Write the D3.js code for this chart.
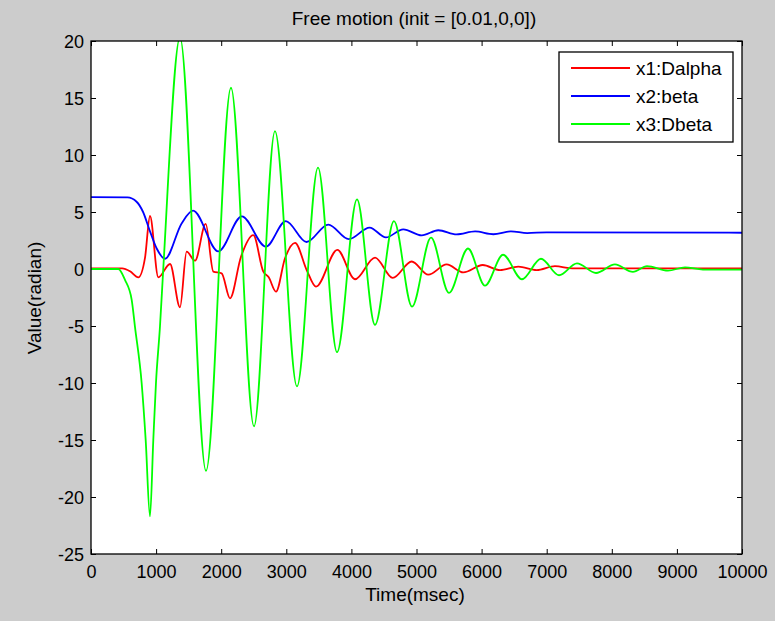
<!DOCTYPE html>
<html>
<head>
<meta charset="utf-8">
<script src="https://cdn.jsdelivr.net/npm/d3@7"></script>
<style>
  body { margin: 0; background: #cccccc; }
  svg { display: block; }
  text { font-family: "Liberation Sans", Arial, sans-serif; fill: #000; }
</style>
</head>
<body>
<svg id="chart" width="775" height="621"></svg>
<script>
// [time (msec), value (radian)]
const dalpha = [[0,0.05],[480,0.05],[600,-0.2],[727,-0.73],[830,1.0],[906,4.65],[1034,-0.73],
  [1214,0.44],[1367,-3.36],[1469,1.52],[1598,0.73],[1762,3.95],[1879,-0.23],[2007,-0.38],
  [2135,-2.57],[2304,1.08],[2493,2.98],[2647,-0.23],[2730,-0.73],[2842,-1.99],[2980,0.94],
  [3134,2.3],[3313,-0.09],[3456,-1.55],[3784,1.67],[4055,-0.9],[4363,1.0],[4634,-0.78],
  [4926,0.66],[5181,-0.5],[5463,0.4],[5719,-0.3],[6017,0.35],[6283,-0.1],[6564,0.2],
  [6846,-0.1],[7127,0.25],[7400,0.05],[10000,0.05]];

const beta = [[0,6.3],[560,6.28],[700,5.9],[800,5.0],[906,3.3],[1009,1.8],[1137,0.9],
  [1392,4.0],[1567,5.12],[1956,1.55],[2317,4.62],[2686,1.96],[2993,4.2],[3310,2.37],
  [3645,3.9],[3960,2.62],[4280,3.63],[4530,2.77],[4797,3.48],[5080,2.95],[5335,3.4],
  [5617,3.04],[5900,3.3],[6180,3.05],[6450,3.3],[6700,3.15],[7000,3.22],[10000,3.18]];

const dbeta = [[0,0],[420,0],[522,-0.96],[625,-2.7],[676,-5.1],[778,-10],[840,-15],
  [906,-21.7],[957,-15],[998,-10],[1060,-5],[1110,0],[1367,20.3],[1767,-17.7],[2150,15.9],
  [2504,-13.8],[2826,12.1],[3164,-10.3],[3487,8.9],[3779,-7.3],[4086,6.1],[4362,-4.9],
  [4654,4.2],[4931,-3.3],[5223,2.75],[5499,-2.1],[5791,1.8],[6052,-1.46],[6329,1.25],
  [6620,-0.9],[6912,0.9],[7189,-0.55],[7465,0.5],[7757,-0.35],[8049,0.4],[8325,-0.25],
  [8541,0.25],[8863,-0.15],[9124,0.15],[9400,-0.05],[10000,-0.05]];

const seriesNames = ["x1:Dalpha", "x2:beta", "x3:Dbeta"];
const xTicks = [0,1000,2000,3000,4000,5000,6000,7000,8000,9000,10000];
const yTicks = [-25,-20,-15,-10,-5,0,5,10,15,20];

const colors = ["#ff0000", "#0000ff", "#00ff00"];
const marginLeft = 91, marginTop = 41, width = 651, height = 513;

const svg = d3.select("#chart");
const g = svg.append("g").attr("transform", "translate(" + marginLeft + "," + marginTop + ")");

const x = d3.scaleLinear().domain([0, 10000]).range([0, width]);
const y = d3.scaleLinear().domain([-25, 20]).range([height, 0]);

g.append("rect").attr("width", width).attr("height", height).style("fill", "white");

g.append("clipPath").attr("id", "plotclip")
  .append("rect").attr("width", width).attr("height", height);

// axes, ticks pointing inward on all four sides
const bottomAx = g.append("g").attr("transform", "translate(0," + height + ")")
  .call(d3.axisBottom(x).tickValues(xTicks).tickFormat(d => String(d))
    .tickSizeInner(-5).tickSizeOuter(0).tickPadding(11));
const topAx = g.append("g")
  .call(d3.axisTop(x).tickValues(xTicks).tickFormat("").tickSizeInner(-5).tickSizeOuter(0));
const leftAx = g.append("g")
  .call(d3.axisLeft(y).tickValues(yTicks).tickFormat(d => String(d))
    .tickSizeInner(-5).tickSizeOuter(0).tickPadding(7));
const rightAx = g.append("g").attr("transform", "translate(" + width + ",0)")
  .call(d3.axisRight(y).tickValues(yTicks).tickFormat("").tickSizeInner(-5).tickSizeOuter(0));

[bottomAx, topAx, leftAx, rightAx].forEach(a => {
  a.select(".domain").remove();
  a.selectAll("line").style("stroke", "#000");
  a.selectAll("text").style("font-size", "18px").style("font-family", "Liberation Sans, Arial, sans-serif").style("fill", "#000");
});
leftAx.selectAll("text").attr("dy", "0.38em");

const line = d3.line()
  .x(d => x(d[0]))
  .y(d => y(d[1]))
  .curve(d3.curveMonotoneX);

const plot = g.append("g").attr("clip-path", "url(#plotclip)");
[dalpha, beta, dbeta].forEach((s, i) => {
  plot.append("path")
    .datum(s)
    .attr("fill", "none")
    .attr("stroke", colors[i])
    .attr("stroke-width", 1.8)
    .attr("d", line);
});

g.append("rect").attr("width", width).attr("height", height)
  .style("fill", "none").style("stroke", "#000").style("stroke-width", 1.3);

// legend
const legend = g.append("g").attr("transform", "translate(468,11)");
legend.append("rect").attr("width", 174).attr("height", 90)
  .style("fill", "white").style("stroke", "#000").style("stroke-width", 1.3);
seriesNames.forEach((name, i) => {
  const ly = 16 + i * 28;
  legend.append("line").attr("x1", 12).attr("x2", 71).attr("y1", ly).attr("y2", ly)
    .style("stroke", colors[i]).style("stroke-width", 1.8);
  legend.append("text").attr("x", 77).attr("y", ly + 7).text(name).style("font-size", "19px");
});

svg.append("text").text("Free motion (init = [0.01,0,0])")
  .attr("x", 414).attr("y", 25).attr("text-anchor", "middle").style("font-size", "19px");
svg.append("text").text("Time(msec)")
  .attr("x", 415).attr("y", 601).attr("text-anchor", "middle").style("font-size", "19px");
svg.append("text").text("Value(radian)")
  .attr("transform", "translate(41,298) rotate(-90)").attr("text-anchor", "middle").style("font-size", "19px");
</script>
</body>
</html>
